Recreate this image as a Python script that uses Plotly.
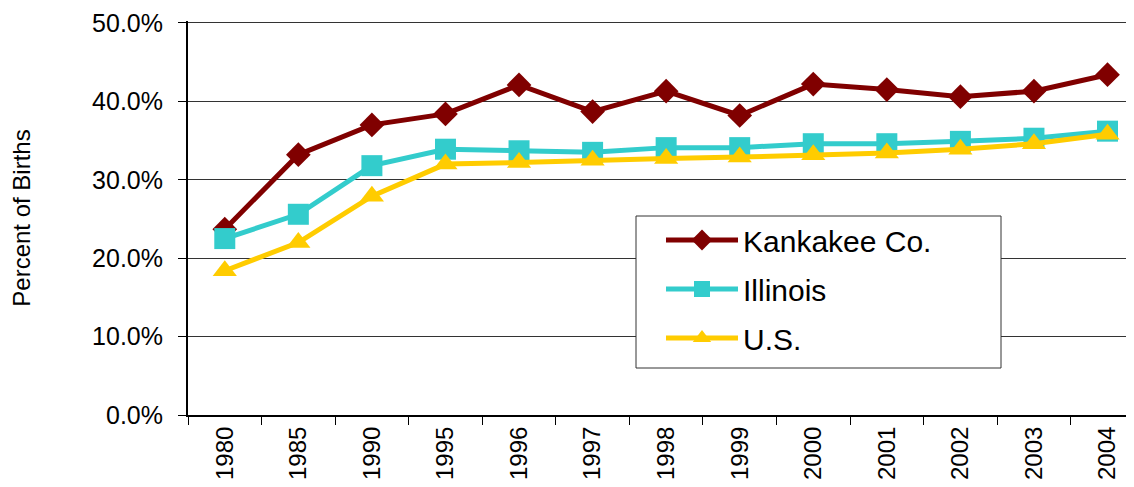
import plotly.graph_objects as go

years = ["1980", "1985", "1990", "1995", "1996", "1997", "1998", "1999",
         "2000", "2001", "2002", "2003", "2004"]
kankakee = [0.237, 0.332, 0.370, 0.384, 0.421, 0.387, 0.413, 0.382,
            0.422, 0.415, 0.406, 0.413, 0.434]
illinois = [0.225, 0.256, 0.318, 0.339, 0.337, 0.335, 0.341, 0.341,
            0.346, 0.346, 0.349, 0.353, 0.362]
us = [0.184, 0.220, 0.279, 0.320, 0.322, 0.325, 0.327, 0.329,
      0.332, 0.334, 0.339, 0.346, 0.358]

series = [
    ("Kankakee Co.", kankakee, "#800000", "diamond", 19),
    ("Illinois", illinois, "#33CCCC", "square", 21),
    ("U.S.", us, "#FFCC00", "triangle-up", 21),
]

fig = go.Figure()
for i, (name, vals, color, sym, size) in enumerate(series):
    fig.add_trace(go.Scatter(
        x=years, y=vals, name=name, mode="lines+markers",
        legendgroup=f"g{i}",
        line=dict(color=color, width=5),
        marker=dict(symbol=sym, size=size, color=color),
    ))

font = "Liberation Sans, Arial, sans-serif"
OFF = 8  # default page body margin
FW, FH = 1134 - OFF, 487 - OFF
Ls, Ts, W, H = 188, 21, 946, 394  # plot area in screen pixels

def px_x(p):
    return (p - Ls) / W

def px_y(p):
    return (Ts + H - p) / H

# legend frame
fig.add_shape(type="rect", xref="paper", yref="paper",
              x0=px_x(636), x1=px_x(1001), y0=px_y(368), y1=px_y(216),
              line=dict(color="#333", width=1), fillcolor="white", layer="above")

fig.update_layout(
    width=FW, height=FH,
    margin=dict(l=Ls - OFF, r=0, t=Ts - OFF, b=FH - (Ts - OFF) - H),
    paper_bgcolor="white", plot_bgcolor="white",
    font=dict(family=font, color="black"),
    showlegend=True,
    legend=dict(
        x=px_x(661), y=px_y(214), xanchor="left", yanchor="top",
        bgcolor="rgba(0,0,0,0)", borderwidth=0,
        font=dict(size=30, family=font, color="black"),
        tracegroupgap=7, itemwidth=72,
    ),
    xaxis=dict(
        type="category", range=[-0.5, 12.36], automargin=False,
        showline=True, linecolor="black", linewidth=2,
        ticks="outside", tickson="boundaries", ticklen=8,
        tickcolor="black", tickwidth=1,
        tickangle=-90, tickfont=dict(size=24, family=font),
        showgrid=False, ticklabeloverflow="allow",
    ),
    yaxis=dict(
        range=[0, 0.5025], tick0=0, dtick=0.1, tickformat=".1%", automargin=False,
        showline=True, linecolor="black", linewidth=2,
        ticks="outside", ticklen=8, tickcolor="black", tickwidth=1,
        tickfont=dict(size=25, family=font), ticklabelstandoff=10,
        ticklabeloverflow="allow",
        showgrid=True, gridcolor="#333", gridwidth=1,
        zeroline=False,
        title=dict(text="Percent of Births", font=dict(size=24, family=font), standoff=57),
    ),
)

fig.write_html("out.html")
